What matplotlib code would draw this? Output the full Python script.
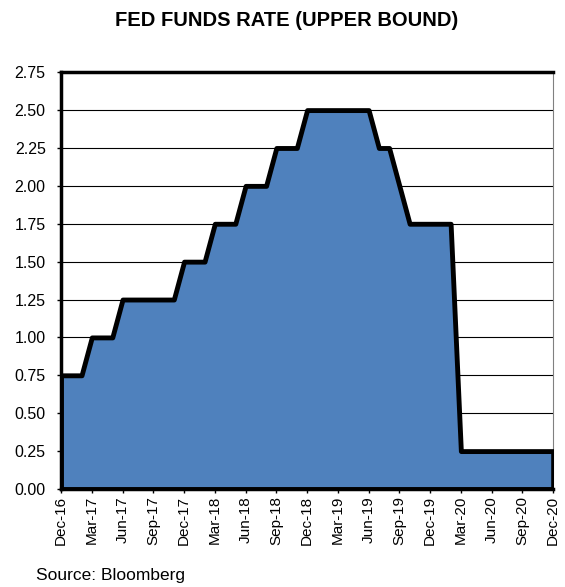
import matplotlib.pyplot as plt
import numpy as np

plt.rcParams['font.family'] = ['Liberation Sans', 'DejaVu Sans']

# Monthly upper bound of fed funds target, Dec-16 .. Dec-20
months = ["Dec-16", "Jan-17", "Feb-17", "Mar-17", "Apr-17", "May-17", "Jun-17", "Jul-17",
          "Aug-17", "Sep-17", "Oct-17", "Nov-17", "Dec-17", "Jan-18", "Feb-18", "Mar-18",
          "Apr-18", "May-18", "Jun-18", "Jul-18", "Aug-18", "Sep-18", "Oct-18", "Nov-18",
          "Dec-18", "Jan-19", "Feb-19", "Mar-19", "Apr-19", "May-19", "Jun-19", "Jul-19",
          "Aug-19", "Sep-19", "Oct-19", "Nov-19", "Dec-19", "Jan-20", "Feb-20", "Mar-20",
          "Apr-20", "May-20", "Jun-20", "Jul-20", "Aug-20", "Sep-20", "Oct-20", "Nov-20",
          "Dec-20"]
rates = [0.75, 0.75, 0.75, 1.00, 1.00, 1.00, 1.25, 1.25,
         1.25, 1.25, 1.25, 1.25, 1.50, 1.50, 1.50, 1.75,
         1.75, 1.75, 2.00, 2.00, 2.00, 2.25, 2.25, 2.25,
         2.50, 2.50, 2.50, 2.50, 2.50, 2.50, 2.50, 2.25,
         2.25, 2.00, 1.75, 1.75, 1.75, 1.75, 1.75, 0.25,
         0.25, 0.25, 0.25, 0.25, 0.25, 0.25, 0.25, 0.25,
         0.25]
yticks = np.arange(0, 2.76, 0.25)

x = np.arange(len(months))

fig = plt.figure(figsize=(5.65, 5.87), dpi=100)
ax = fig.add_axes([0.108, 0.167, 0.871, 0.710])

ax.fill_between(x, rates, 0, facecolor='#4F81BD', edgecolor='black',
                linewidth=3.5, zorder=3)

ax.set_xlim(x[0], x[-1])
ax.set_ylim(0, 2.75)
ax.set_yticks(yticks)
ax.set_yticklabels([f"{v:.2f}" for v in yticks], fontsize=11.5)
ax.set_xticks(x[::3])
ax.set_xticklabels(months[::3], rotation=90, fontsize=11)
ax.yaxis.grid(True, color='black', linewidth=0.8)
ax.set_axisbelow(True)
ax.tick_params(direction='out', length=3, width=1)
ax.tick_params(axis='x', pad=2)
ax.tick_params(axis='y', pad=8)

for side in ['left', 'bottom', 'top']:
    ax.spines[side].set_linewidth(2.5)
ax.spines['right'].set_linewidth(0.8)
ax.spines['right'].set_color('#808080')

fig.text(0.508, 0.965, "FED FUNDS RATE (UPPER BOUND)", ha='center', va='center',
         fontsize=14.5, fontweight='bold')
fig.text(0.064, 0.02, "Source: Bloomberg", ha='left', va='center', fontsize=12.5)

fig.savefig("out.png", dpi=100)
